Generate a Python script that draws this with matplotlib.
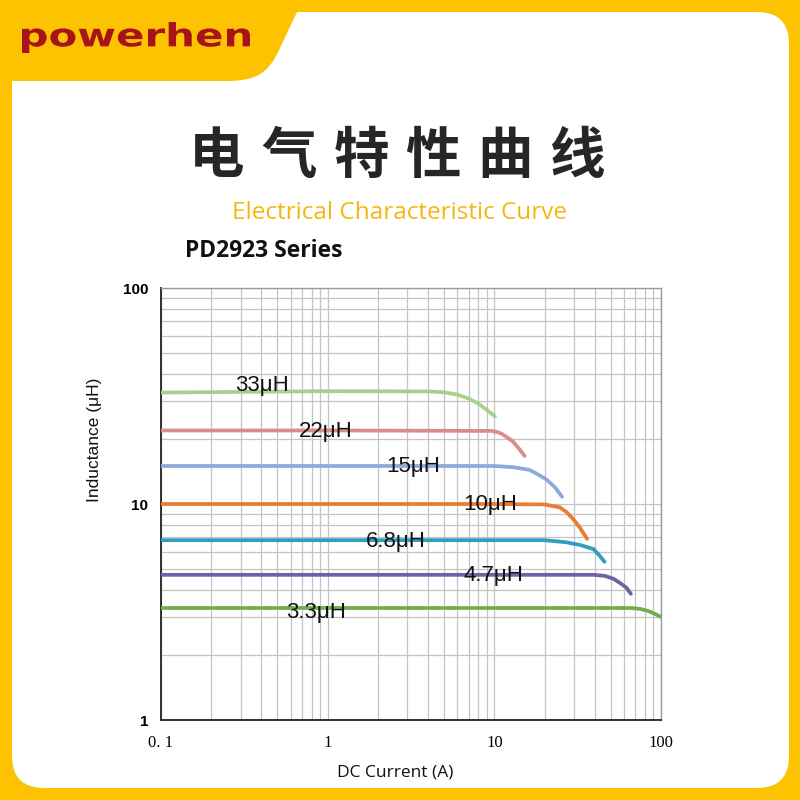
import matplotlib.pyplot as plt
from matplotlib.font_manager import FontProperties
from matplotlib.patches import FancyBboxPatch, PathPatch
from matplotlib.path import Path
from matplotlib.textpath import TextPath
from matplotlib.ticker import NullFormatter
from matplotlib.transforms import Affine2D

# inductance vs DC current, one curve per part
series_names = ["33μH", "22μH", "15μH", "10μH", "6.8μH", "4.7μH", "3.3μH"]
current_33 = [0.1, 1, 4, 5.0, 6.0, 7.0, 8.0, 9.0, 10.1]
induct_33 = [32.8, 33.3, 33.2, 32.9, 32.1, 30.8, 29.2, 27.3, 25.4]
current_22 = [0.1, 1, 9.6, 10.5, 11.1, 12.0, 12.9, 14.0, 15.2]
induct_22 = [21.9, 21.9, 21.8, 21.5, 21.1, 20.3, 19.5, 18.1, 16.7]
current_15 = [0.1, 1, 10, 13, 16.2, 18, 20.5, 23, 25.5]
induct_15 = [15.0, 15.0, 15.0, 14.8, 14.4, 13.8, 13.0, 12.0, 10.8]
current_10 = [0.1, 1, 10, 20, 24.7, 27, 29.8, 32.5, 36]
induct_10 = [10.0, 10.0, 10.0, 9.95, 9.65, 9.2, 8.5, 7.8, 6.9]
current_6r8 = [0.1, 1, 10, 20, 27, 33, 39.4, 42.5, 45.8]
induct_6r8 = [6.8, 6.8, 6.8, 6.8, 6.65, 6.45, 6.18, 5.8, 5.4]
current_4r7 = [0.1, 1, 10, 39.4, 46, 52, 57, 62, 65.9]
induct_4r7 = [4.7, 4.7, 4.7, 4.7, 4.65, 4.5, 4.3, 4.1, 3.84]
current_3r3 = [0.1, 1, 10, 66, 75, 83.4, 92, 100]
induct_3r3 = [3.3, 3.3, 3.3, 3.3, 3.27, 3.2, 3.1, 3.0]

currents = [current_33, current_22, current_15, current_10, current_6r8, current_4r7, current_3r3]
inducts = [induct_33, induct_22, induct_15, induct_10, induct_6r8, induct_4r7, induct_3r3]
colors = ["#a9cf8c", "#d98c8c", "#8eaadb", "#ea7d32", "#2f9fbd", "#7360a6", "#76ab4c"]
# where each name sits (current, inductance)
label_at = [(0.405, 35.2), (0.98, 21.7), (3.24, 14.9), (9.45, 9.9), (2.56, 6.71), (9.86, 4.66), (0.849, 3.16)]

x_ticks = [0.1, 1, 10, 100]
x_tick_labels = ["0. 1", "1", "10", "100"]
y_ticks = [1, 10, 100]
y_tick_labels = ["1", "10", "100"]

yellow = "#fdc300"

fig = plt.figure(figsize=(8, 8), dpi=100)
fig.patch.set_facecolor(yellow)

# white card with rounded corners
card = FancyBboxPatch(
    (12 / 800, 12 / 800), 777 / 800, 776 / 800,
    boxstyle="round,pad=0,rounding_size=0.04",
    transform=fig.transFigure, facecolor="white", edgecolor="none", zorder=-2,
)
fig.add_artist(card)

# yellow tab behind the logo (top-down pixel points)
tab_pts = [(0, 0), (305, 0), (297, 12), (280, 48), (268, 75), (255, 81), (225, 81), (0, 81), (0, 0)]
tab_codes = [Path.MOVETO, Path.LINETO, Path.LINETO, Path.LINETO,
             Path.CURVE4, Path.CURVE4, Path.CURVE4, Path.LINETO, Path.CLOSEPOLY]
tab = Path([(x / 800, 1 - y / 800) for x, y in tab_pts], tab_codes)
fig.add_artist(PathPatch(tab, transform=fig.transFigure, facecolor=yellow,
                         edgecolor="none", zorder=-1))

# logo word, stretched into its box
tp = TextPath((0, 0), "powerhen", size=1, prop=FontProperties(family="DejaVu Sans", weight="bold"))
ext = tp.get_extents()
sx = 228 / (ext.x1 - ext.x0)
sy = 31 / (ext.y1 - ext.y0)
logo_tr = Affine2D().translate(-ext.x0, -ext.y1).scale(sx / 800, sy / 800).translate(22 / 800, 778 / 800)
fig.add_artist(PathPatch(tp, transform=logo_tr + fig.transFigure,
                         facecolor="#a8131a", edgecolor="none"))

# headings
title = "电气特性曲线"
for i, ch in enumerate(title):
    fig.text((217 + 72 * i) / 800, 1 - 157 / 800, ch, ha="center", va="center",
             fontsize=40, fontweight="heavy", color="#262626",
             family=["Noto Sans CJK SC", "DejaVu Sans"])
fig.text(399 / 800, 1 - 213 / 800, "Electrical Characteristic Curve", ha="center", va="center",
         fontsize=17.5, color="#f6b60f", family="Open Sans")
fig.text(185 / 800, 1 - 251 / 800, "PD2923 Series", ha="left", va="center",
         fontsize=16.5, fontweight="bold", color="#111111", family="Open Sans")

ax = fig.add_axes([161 / 800, 80 / 800, 500 / 800, 432 / 800])
ax.set_facecolor("white")

for xs, ys, c in zip(currents, inducts, colors):
    ax.plot(xs, ys, color=c, linewidth=2.7, solid_capstyle="round", zorder=3)

for name, (lx, ly) in zip(series_names, label_at):
    ax.text(lx, ly, name, ha="center", va="center", fontsize=16,
            family="Liberation Sans", color="#111111", zorder=4)

ax.set_xscale("log")
ax.set_yscale("log")
ax.set_xlim(0.1, 100)
ax.set_ylim(1, 100)

ax.set_xticks(x_ticks)
ax.set_xticklabels(x_tick_labels, fontsize=12, family="Liberation Serif")
ax.set_yticks(y_ticks)
ax.set_yticklabels(y_tick_labels, fontsize=11, fontweight="bold", family="Liberation Sans")
ax.xaxis.set_minor_formatter(NullFormatter())
ax.yaxis.set_minor_formatter(NullFormatter())
ax.tick_params(which="both", length=0)
ax.tick_params(axis="x", pad=11)
ax.tick_params(axis="y", pad=9)

ax.grid(True, which="both", color="#c4c4c4", linewidth=0.9)
ax.set_axisbelow(True)

for side in ["left", "bottom"]:
    ax.spines[side].set_color("#222222")
    ax.spines[side].set_linewidth(1.3)
for side in ["top", "right"]:
    ax.spines[side].set_color("#9a9a9a")
    ax.spines[side].set_linewidth(1.0)

ax.set_xlabel("DC Current (A)", fontsize=12.5, family="Open Sans", color="#111111")
ax.xaxis.set_label_coords(0.468, -0.102)
ax.set_ylabel("Inductance (μH)", fontsize=12.5, family="Liberation Sans", color="#111111")
ax.yaxis.set_label_coords(-0.118, 0.648)

fig.savefig("out.png", dpi=100)
